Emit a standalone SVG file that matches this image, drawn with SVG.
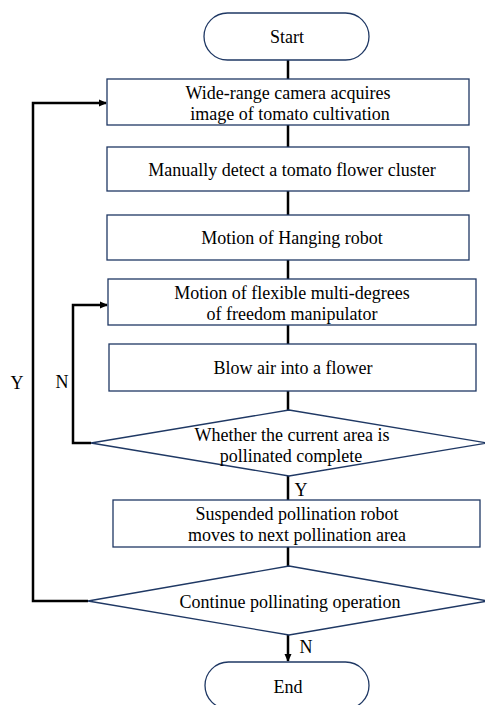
<svg xmlns="http://www.w3.org/2000/svg" width="485" height="705" viewBox="0 0 485 705">
<style>
.s{fill:#fff;stroke:#1f3864;stroke-width:1.3}
.t{font-family:'Liberation Serif','Times New Roman','DejaVu Serif',serif;font-size:18px;fill:#000;text-anchor:middle}
.c{fill:none;stroke:#000;stroke-width:2.5}
</style>
<defs>
<marker id="a" markerWidth="8" markerHeight="8" refX="7" refY="4" orient="auto" markerUnits="userSpaceOnUse"><path d="M0,0.5 L8,4 L0,7.5 z" fill="#000"/></marker>
</defs>
<g id="connectors">
<line class="c" x1="288" y1="60" x2="288" y2="79"/>
<line class="c" x1="288" y1="125" x2="288" y2="147"/>
<line class="c" x1="288" y1="191" x2="288" y2="215"/>
<line class="c" x1="288" y1="260" x2="288" y2="279"/>
<line class="c" x1="288" y1="325" x2="288" y2="344"/>
<line class="c" x1="288" y1="391" x2="288" y2="410"/>
<line class="c" x1="288" y1="476" x2="288" y2="500"/>
<line class="c" x1="288" y1="547" x2="288" y2="566"/>
<line class="c" x1="288" y1="635" x2="288" y2="661" marker-end="url(#a)"/>
<polyline class="c" points="91,443 73,443 73,305 107,305" marker-end="url(#a)"/>
<polyline class="c" points="88,601 33,601 33,103 106,103" marker-end="url(#a)"/>
<text class="t" x="17" y="389">Y</text>
<text class="t" x="62" y="388">N</text>
<text class="t" x="301" y="496">Y</text>
<text class="t" x="306" y="653">N</text>
</g>
<g id="start"><rect class="s" x="204" y="13" width="165" height="47" rx="23.5"/><text class="t" x="287" y="43">Start</text></g>
<g id="camera"><rect class="s" x="107" y="79" width="362" height="46"/><text class="t" x="288" y="99">Wide-range camera acquires</text><text class="t" x="290" y="120">image of tomato cultivation</text></g>
<g id="detect"><rect class="s" x="107" y="147" width="362" height="44"/><text class="t" x="292" y="176">Manually detect a tomato flower cluster</text></g>
<g id="hanging"><rect class="s" x="107" y="215" width="362" height="45"/><text class="t" x="292" y="244">Motion of Hanging robot</text></g>
<g id="manipulator"><rect class="s" x="108" y="279" width="368" height="46"/><text class="t" x="292" y="299">Motion of flexible multi-degrees</text><text class="t" x="292" y="320">of freedom manipulator</text></g>
<g id="blow"><rect class="s" x="109" y="344" width="367" height="47"/><text class="t" x="293" y="374">Blow air into a flower</text></g>
<g id="decision1"><polygon class="s" points="289,410 487,443 289,476 91,443"/><text class="t" x="292" y="441">Whether the current area is</text><text class="t" x="291" y="462">pollinated complete</text></g>
<g id="move"><rect class="s" x="113" y="500" width="367" height="47"/><text class="t" x="297" y="520">Suspended pollination robot</text><text class="t" x="297" y="541">moves to next pollination area</text></g>
<g id="decision2"><polygon class="s" points="289,566 488,601 289,635 88,601"/><text class="t" x="290" y="608">Continue pollinating operation</text></g>
<g id="end"><rect class="s" x="205" y="662" width="164" height="47" rx="23.5"/><text class="t" x="288" y="693">End</text></g>
</svg>
